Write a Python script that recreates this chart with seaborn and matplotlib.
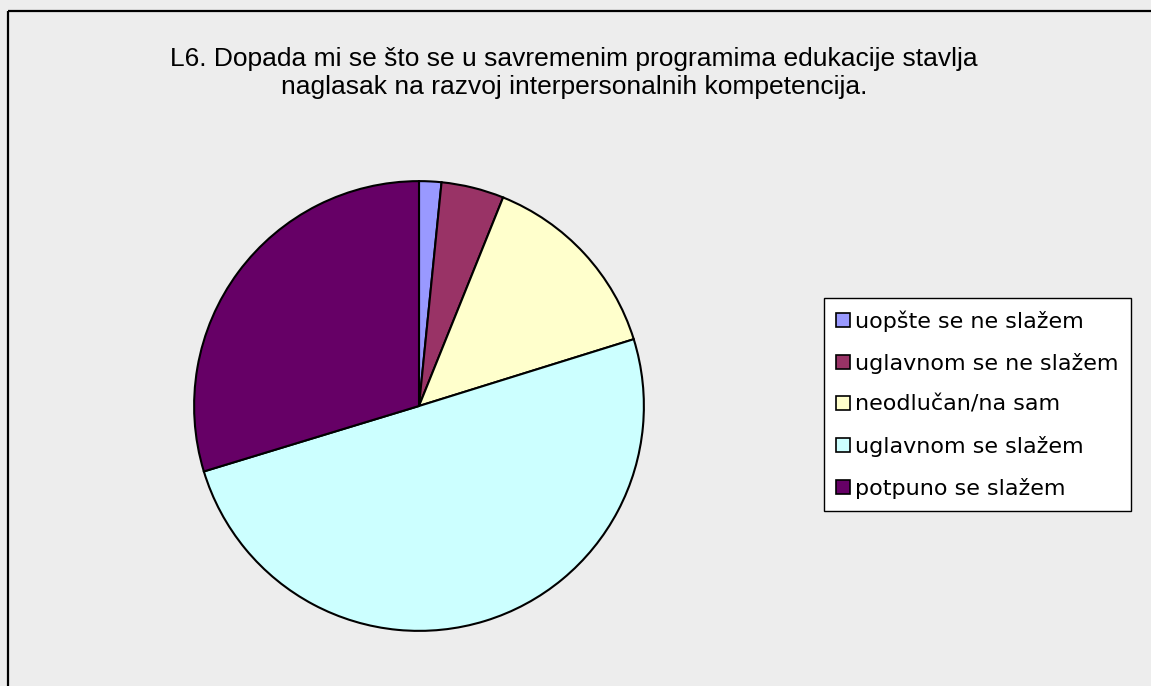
import matplotlib
matplotlib.use("Agg")
import matplotlib.pyplot as plt
from matplotlib.lines import Line2D
from matplotlib.patches import Patch
import seaborn as sns

# Survey answers and their shares (%)
categories = [
    "uopšte se ne slažem",
    "uglavnom se ne slažem",
    "neodlučan/na sam",
    "uglavnom se slažem",
    "potpuno se slažem",
]
shares = [1.6, 4.5, 14.1, 50.1, 29.7]
slice_colors = ["#9999FF", "#993366", "#FFFFCC", "#CCFFFF", "#660066"]
title_text = ("L6. Dopada mi se što se u savremenim programima edukacije stavlja\n"
              "naglasak na razvoj interpersonalnih kompetencija.")

sns.set_theme(style="white")
palette = sns.color_palette(slice_colors)
plt.rcParams["font.family"] = ["DejaVu Sans"]

bg = "#EDEDED"
W, H = 1151, 686
fig = plt.figure(figsize=(W / 100, H / 100), dpi=100, facecolor=bg)

# chart-area frame: left and top edges, running off the canvas
x0, y0 = 8 / W, 1 - 11 / H
fig.add_artist(Line2D([x0, x0], [-0.05, y0], transform=fig.transFigure,
                      color="black", linewidth=1.6, zorder=-1,
                      solid_capstyle="butt", solid_joinstyle="miter"))
fig.add_artist(Line2D([x0, 1.05], [y0, y0], transform=fig.transFigure,
                      color="black", linewidth=1.6, zorder=-1,
                      solid_capstyle="butt"))

ax = fig.add_axes([193 / W, 54 / H, 452 / W, 452 / H])
ax.set_facecolor("none")
wedges, _ = ax.pie(shares, colors=palette, startangle=90, counterclock=False,
                   radius=1.0,
                   wedgeprops=dict(edgecolor="black", linewidth=1.5))
ax.set_xlim(-1.005, 1.005)
ax.set_ylim(-1.005, 1.005)
ax.set_aspect("auto")
ax.axis("off")

fig.text(574 / W, 1 - 73 / H, title_text, ha="center", va="center",
         fontsize=19, family=["Liberation Sans", "DejaVu Sans"],
         linespacing=1.25, color="black")

handles = [Patch(facecolor=c, edgecolor="black", linewidth=1.2) for c in palette]
leg = fig.legend(handles, categories, loc="upper left",
                 bbox_to_anchor=(824 / W, 1 - 298 / H),
                 frameon=True, fancybox=False, edgecolor="black",
                 framealpha=1.0,
                 fontsize=16, handlelength=0.6, handleheight=0.6,
                 handletextpad=0.25, labelspacing=0.95, borderpad=0.55,
                 borderaxespad=0, labelcolor="black")
leg.get_frame().set_facecolor("white")
leg.get_frame().set_linewidth(1.0)

fig.savefig("out.png", dpi=100, facecolor=bg)
